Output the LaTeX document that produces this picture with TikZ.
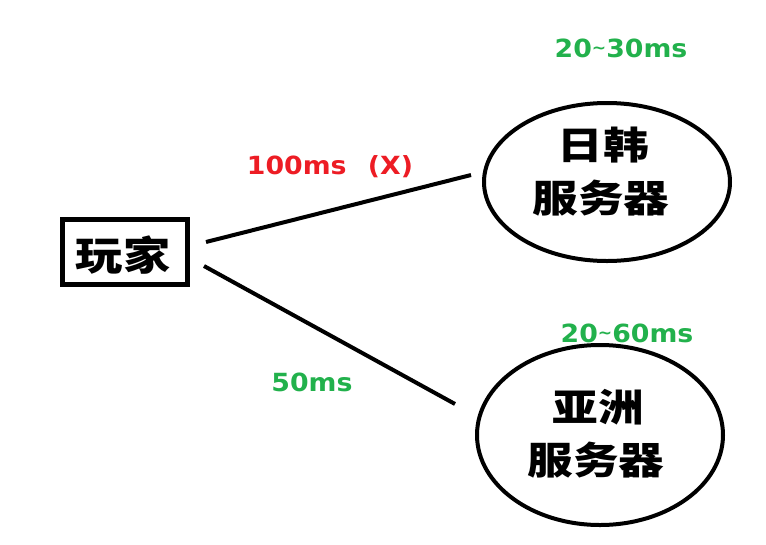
\documentclass[tikz,border=0pt]{standalone}
\usepackage{fontspec}
\usetikzlibrary{shapes.geometric}
\newfontfamily\cjk{Noto Sans CJK SC Black}
\newfontfamily\lbl{DejaVu Sans Bold}
\definecolor{pgreen}{RGB}{34,177,76}
\definecolor{pred}{RGB}{237,28,36}
\begin{document}
\begin{tikzpicture}[x=1pt,y=-1pt,
  thickline/.style={line width=4pt,black},
  cjkbig/.style={font=\cjk\fontsize{40}{42}\selectfont,xscale=1.18,inner sep=0pt},
  cjkmid/.style={font=\cjk\fontsize{38}{40}\selectfont,xscale=1.2,inner sep=0pt},
  srv/.style={ellipse,draw,line width=4pt,inner sep=0pt},
  lab/.style={font=\lbl\fontsize{25}{27}\selectfont,inner sep=0pt,anchor=base,xscale=1.07}]
\useasboundingbox[fill=white] (0,0) rectangle (766,544);
% player
\node[draw,line width=5pt,minimum width=125pt,minimum height=65pt,inner sep=0pt] (player) at (125,252) {};
\node[cjkbig] (playertxt) at (123,255) {玩家};
% servers
\node[srv,minimum width=246pt,minimum height=158pt] (jk) at (607,182) {};
\node[cjkmid] (jk1) at (603,145) {日韩};
\node[cjkmid] (jk2) at (601,198) {服务器};
\node[srv,minimum width=246pt,minimum height=180pt] (asia) at (600,435) {};
\node[cjkmid] (as1) at (598,407) {亚洲};
\node[cjkmid] (as2) at (596,460) {服务器};
% connectors
\coordinate (a1) at (206,242);
\coordinate (b1) at (471,175);
\coordinate (a2) at (204,266);
\coordinate (b2) at (455,404);
\draw[thickline] (a1) -- (b1);
\draw[thickline] (a2) -- (b2);
% labels
\node[lab,text=pred] (l100) at (330,174) {100ms\hspace{20pt}(X)};
\node[lab,text=pgreen] (l2030) at (621,57) {20\raisebox{4pt}{\fontsize{16}{16}\selectfont\char`~}30ms};
\node[lab,text=pgreen] (l2060) at (627,342) {20\raisebox{4pt}{\fontsize{16}{16}\selectfont\char`~}60ms};
\node[lab,text=pgreen] (l50) at (312,391) {50ms};
\end{tikzpicture}
\end{document}
